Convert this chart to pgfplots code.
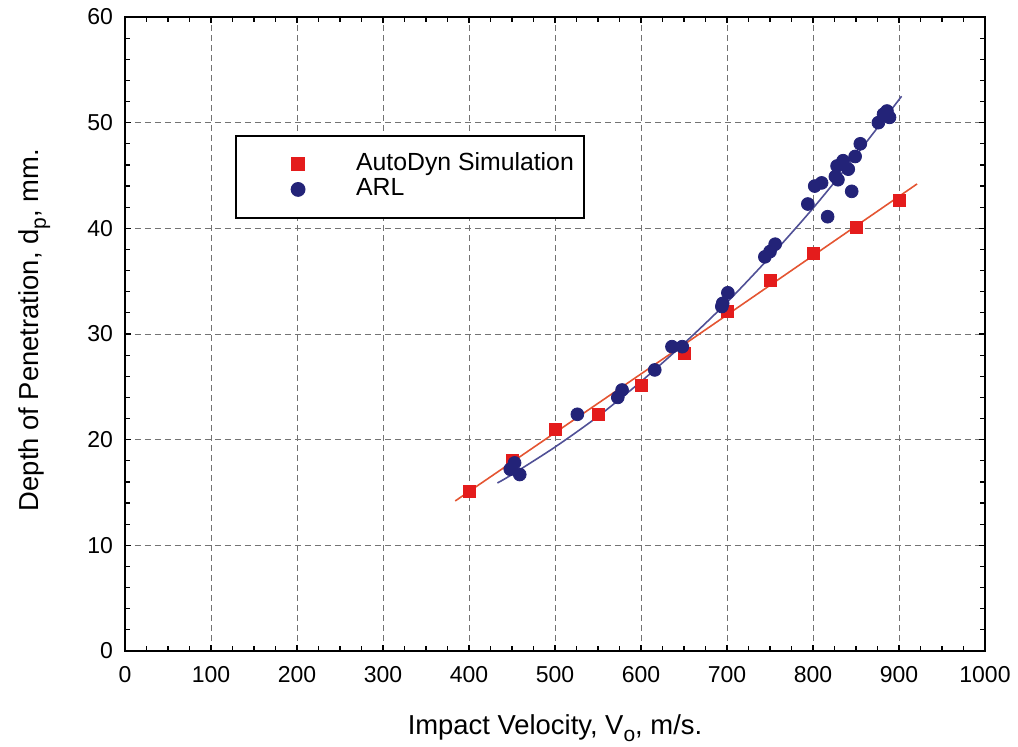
\documentclass[border=0pt]{standalone}
\usepackage{fontspec}
\setmainfont{Liberation Sans}
\usepackage{pgfplots}
\pgfplotsset{compat=1.18}
\definecolor{simred}{RGB}{228,28,28}
\definecolor{simline}{RGB}{228,85,50}
\definecolor{arlblue}{RGB}{35,35,120}
\definecolor{arlline}{RGB}{80,80,150}
\newcommand\sub[1]{\raisebox{-0.5ex}{\fontsize{10.5}{10.5}\selectfont #1}}
\begin{document}
\begin{tikzpicture}
\useasboundingbox (-62.5pt,-48pt) rectangle (446.5pt,325.5pt);
\begin{axis}[
  scale only axis, width=430pt, height=317pt,
  xmin=0, xmax=1000, ymin=0, ymax=60,
  xtick distance=100, ytick distance=10,
  minor x tick num=3, minor y tick num=4,
  tick align=inside, major tick length=3pt, minor tick length=2.5pt,
  axis line style={line width=1pt},
  every tick/.style={black, line width=0.6pt},
  grid=major,
  major grid style={black!55, dash pattern=on 3pt off 2pt, line width=0.45pt},
  tick label style={font=\fontsize{11.5}{13}\selectfont},
  xticklabel style={yshift=-4pt},
  yticklabel style={xshift=-2.5pt},
  /pgf/number format/assume math mode=true,
  /pgf/number format/set thousands separator={},
  label style={font=\fontsize{13.7}{16}\selectfont},
  xlabel={Impact Velocity, V\sub{o}, m/s.},
  ylabel={Depth of Penetration, d\sub{p}, mm.},
  xlabel style={at={(axis description cs:0.5,-0.1)}, anchor=north, inner sep=0pt},
  ylabel style={at={(axis description cs:-0.124,0.506)}, anchor=north, inner sep=0pt},
  legend style={at={(0.128,0.814)}, anchor=north west, draw=black, line width=1pt,
    inner xsep=3pt, inner ysep=8pt, font=\fontsize{12.4}{14}\selectfont,
    nodes={text height=8.3pt, text depth=2.2pt, inner ysep=1pt}, cells={anchor=west}},
  legend image code/.code={\path[draw=none] (-28pt,0pt) -- (27pt,0pt); \draw[#1] plot coordinates {(0pt,0pt)};},
]
% fitted curves
\addplot[simline, line width=0.8pt, forget plot] coordinates {
(384,14.2) (650,29.0) (921,44.2)
};
\addplot[arlline, line width=0.8pt, smooth, forget plot] coordinates {
(433,15.9) (450,16.7) (500,19.3) (550,22.2) (600,25.5) (650,29.1)
(700,33.0) (750,37.3) (800,41.9) (850,46.9) (903,52.5)
};
% AutoDyn simulation
\addplot[only marks, mark=square*, mark size=3pt, color=simred] coordinates {
(400,15.15) (450,18.0) (500,20.95) (550,22.4) (600,25.1) (650,28.2)
(700,32.1) (750,35.1) (800,37.6) (850,40.1) (900,42.6)
};
% ARL experiments
\addplot[only marks, mark=*, mark size=3.2pt, color=arlblue] coordinates {
(448,17.2) (453,17.8) (459,16.7) (526,22.4) (573,24.0) (578,24.7)
(616,26.6) (636,28.8) (648,28.8) (694,32.6) (695,32.9) (701,33.9)
(744,37.3) (750,37.8) (756,38.5) (794,42.3) (802,44.0) (810,44.3)
(817,41.1) (826,44.9) (828,45.9) (829,44.6) (835,46.4) (841,45.6)
(845,43.5) (849,46.8) (855,48.0) (876,50.0) (882,50.8) (886,51.1)
(889,50.5)
};
\legend{AutoDyn Simulation, ARL}
\end{axis}
\end{tikzpicture}
\end{document}
